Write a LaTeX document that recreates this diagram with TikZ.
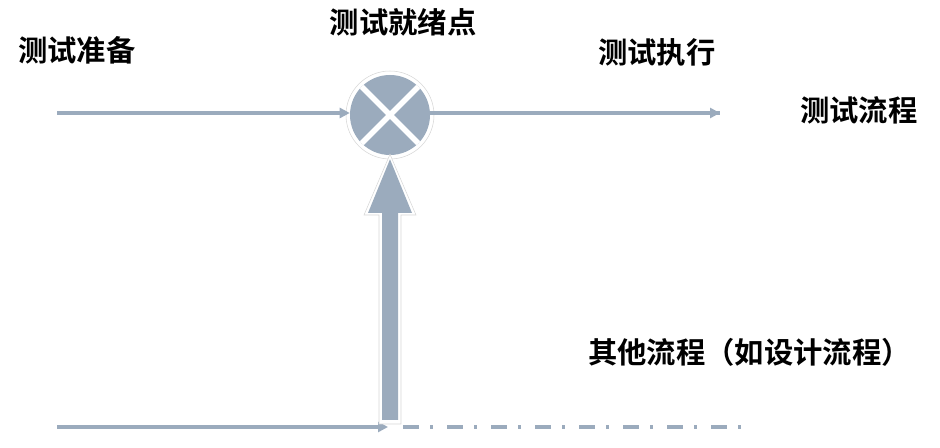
\documentclass[tikz,border=0pt]{standalone}
\usepackage{fontspec}
\setmainfont{Noto Sans CJK SC Bold}
\usetikzlibrary{arrows.meta,calc}
\definecolor{flow}{RGB}{155,171,189}
\definecolor{shade}{RGB}{215,215,215}
\begin{document}
\begin{tikzpicture}[x=0.75pt,y=-0.75pt,
  lbl/.style={font=\fontsize{22pt}{26pt}\selectfont, inner sep=0pt, text=black},
  flowline/.style={draw=flow, line width=2.4pt, -{Triangle[length=7.5pt,width=7.5pt]}},
  dashflow/.style={draw=flow, line width=2.5pt, dash pattern=on 12pt off 8.25pt on 2.25pt off 10.5pt}]
\useasboundingbox (0,0) rectangle (940,448);
% labels
\node[lbl, anchor=west] (prep) at (18,50) {测试准备};
\node[lbl] (readylbl) at (403,22) {测试就绪点};
\node[lbl, anchor=west] (exec) at (598,52) {测试执行};
\node[lbl, anchor=west] (proc) at (800,110) {测试流程};
\node[lbl, anchor=west] (other) at (588,352) {其他流程（如设计流程）};
% summing junction
\node[circle, fill=white, draw=shade, line width=0.4pt, minimum size=88*0.75pt, inner sep=0pt] (ring) at (390,115) {};
\node[circle, fill=flow, minimum size=80*0.75pt, inner sep=0pt] (ready) at (390,115) {};
\begin{scope}
  \clip (ready.center) circle (40);
  \draw[white, line width=4pt] (ready.center) ++(-45,-45) -- ++(90,90);
  \draw[white, line width=4pt] (ready.center) ++(45,-45) -- ++(-90,90);
\end{scope}
% top flow
\coordinate (inL) at (57,113);
\coordinate (outR) at (720,113);
\draw[flowline] (inL) -- (ready.west |- inL);
\draw[flow, line width=2.4pt] (ready.east |- outR) -- (outR);
\draw[flowline] ($(outR)+(-1,0)$) -- (outR);
% bottom flow
\coordinate (botL) at (57,427);
\coordinate (botM) at (390,427);
\coordinate (botR) at (748,427);
\draw[flowline] (botL) -- ($(botM)+(-2,0)$);
\draw[dashflow] (403,427) -- (botR);
% big vertical arrow
\coordinate (base) at (390,420);
\path[draw=shade, line width=0.4pt, fill=white]
  ($(base)+(-11,4)$) -- ($(base)+(-11,-205)$) -- ($(base)+(-26,-205)$) -- ($(ready.south)+(0,-1)$)
  -- ($(base)+(26,-205)$) -- ($(base)+(11,-205)$) -- ($(base)+(11,4)$) -- cycle;
\fill[flow]
  ($(base)+(-8,0)$) -- ($(base)+(-8,-207)$) -- ($(base)+(-22,-207)$) -- ($(ready.south)+(0,4)$)
  -- ($(base)+(22,-207)$) -- ($(base)+(8,-207)$) -- ($(base)+(8,0)$) -- cycle;
\end{tikzpicture}
\end{document}
